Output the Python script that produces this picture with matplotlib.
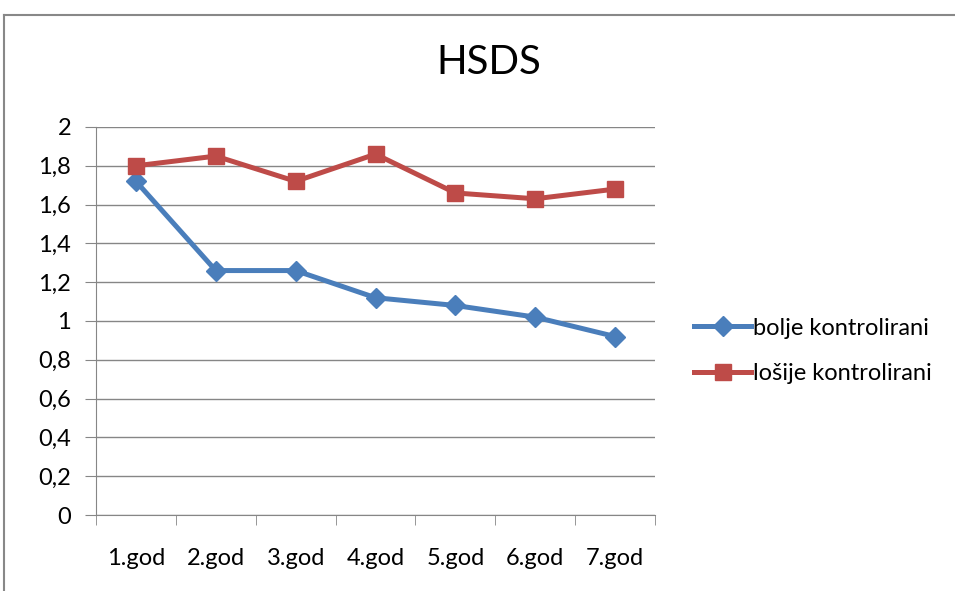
import matplotlib
matplotlib.use("Agg")
import matplotlib.pyplot as plt
from matplotlib.lines import Line2D

# Data
categories = ['1.god', '2.god', '3.god', '4.god', '5.god', '6.god', '7.god']
bolje = [1.72, 1.26, 1.26, 1.12, 1.08, 1.02, 0.92]
losije = [1.80, 1.85, 1.72, 1.86, 1.66, 1.63, 1.68]
yticks = [0, 0.2, 0.4, 0.6, 0.8, 1, 1.2, 1.4, 1.6, 1.8, 2]

plt.rcParams['font.family'] = ['Lato', 'DejaVu Sans']

blue = '#4A7EBB'
red = '#BE4B48'
grid_col = '#868686'

fig = plt.figure(figsize=(9.55, 5.91), dpi=100)
ax = fig.add_axes([96 / 955, 1 - 515 / 591, (655 - 96) / 955, (515 - 127) / 591])

x = list(range(len(categories)))
ax.plot(x, bolje, color=blue, lw=3.6, marker='D', markersize=10, label='bolje kontrolirani', zorder=3)
ax.plot(x, losije, color=red, lw=3.6, marker='s', markersize=12, label='lošije kontrolirani', zorder=3)

ax.set_xlim(-0.5, len(categories) - 0.5)
ax.set_ylim(0, 2)
ax.set_yticks(yticks)
ax.set_yticklabels([('%g' % v).replace('.', ',') for v in yticks], fontsize=17)
ax.yaxis.grid(True, color=grid_col, lw=1)
ax.set_axisbelow(True)

# category labels centered, ticks at boundaries
ax.set_xticks(x)
ax.set_xticklabels(categories, fontsize=17)
ax.tick_params(axis='x', length=0, pad=24)
ax.set_xticks([i - 0.5 for i in range(len(categories) + 1)], minor=True)
ax.tick_params(axis='x', which='minor', length=7, color=grid_col, direction='out')
ax.tick_params(axis='y', length=8, color=grid_col, pad=10)

for side in ['top', 'right']:
    ax.spines[side].set_visible(False)
ax.spines['left'].set_color(grid_col)
ax.spines['bottom'].set_color(grid_col)

ax.set_title('HSDS', fontsize=29, pad=38, x=(489 - 96) / (655 - 96))

# chart frame (cropped)
fig.add_artist(Line2D([4 / 955, 1], [1 - 15 / 591, 1 - 15 / 591], color='#888888', lw=1.5))
fig.add_artist(Line2D([4 / 955, 4 / 955], [0, 1 - 15 / 591], color='#888888', lw=1.5))

leg = fig.legend(loc='center left', bbox_to_anchor=(673 / 955, 1 - 351 / 591), frameon=False,
                 fontsize=17, handlelength=2.4, handletextpad=0.1, labelspacing=1.05)

plt.savefig('out.png', dpi=100)
